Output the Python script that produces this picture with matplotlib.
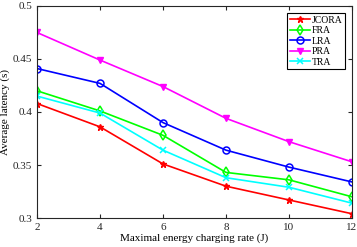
import matplotlib
matplotlib.use("Agg")
import matplotlib.pyplot as plt

plt.rcParams['font.family'] = ['Liberation Serif', 'DejaVu Serif']
plt.rcParams['mathtext.fontset'] = 'stix'

x = [2, 4, 6, 8, 10, 12]
jcora = [0.408, 0.386, 0.351, 0.330, 0.317, 0.304]
fra = [0.420, 0.401, 0.378, 0.343, 0.336, 0.320]
lra = [0.441, 0.427, 0.390, 0.364, 0.348, 0.334]
pra = [0.475, 0.449, 0.424, 0.394, 0.372, 0.353]
tra = [0.415, 0.399, 0.364, 0.338, 0.329, 0.314]

fig = plt.figure(figsize=(3.57, 2.47), dpi=100)
ax = fig.add_axes([37/357, 1-218/247, (352-37)/357, (218-6)/247])

ax.plot(x, jcora, color='#ff0000', marker='*', ms=5, lw=1.2, label='JCORA')
ax.plot(x, fra, color='#00ff00', marker='d', ms=5, mfc='none', mew=1.1, lw=1.2, label='FRA')
ax.plot(x, lra, color='#0000ff', marker='o', ms=5, mfc='none', mew=1.1, lw=1.2, label='LRA')
ax.plot(x, pra, color='#ff00ff', marker='v', ms=5, lw=1.2, label='PRA')
ax.plot(x, tra, color='#00ffff', marker='x', ms=4, mew=1.1, lw=1.2, label='TRA')

ax.set_xlim(2, 12)
ax.set_ylim(0.3, 0.5)
ax.set_xticks([2, 4, 6, 8, 10, 12])
ax.set_yticks([0.3, 0.35, 0.4, 0.45, 0.5])
ax.set_yticklabels(['0.3', '0.35', '0.4', '0.45', '0.5'])
ax.tick_params(direction='in', length=3, labelsize=8, top=True, right=True, colors='#262626')
for s in ax.spines.values():
    s.set_color('#262626')
    s.set_linewidth(0.8)
ax.set_xlabel('Maximal energy charging rate (J)', fontsize=8, labelpad=1)
ax.set_ylabel('Average latency (s)', fontsize=8, labelpad=2)

leg = ax.legend(loc='upper right', fontsize=7, frameon=True, fancybox=False,
                edgecolor='black', framealpha=1, handlelength=2.0, handletextpad=0.2,
                borderpad=0.3, labelspacing=0.15, borderaxespad=0.7)
leg.get_frame().set_linewidth(0.8)

fig.savefig('out.png', dpi=100)
